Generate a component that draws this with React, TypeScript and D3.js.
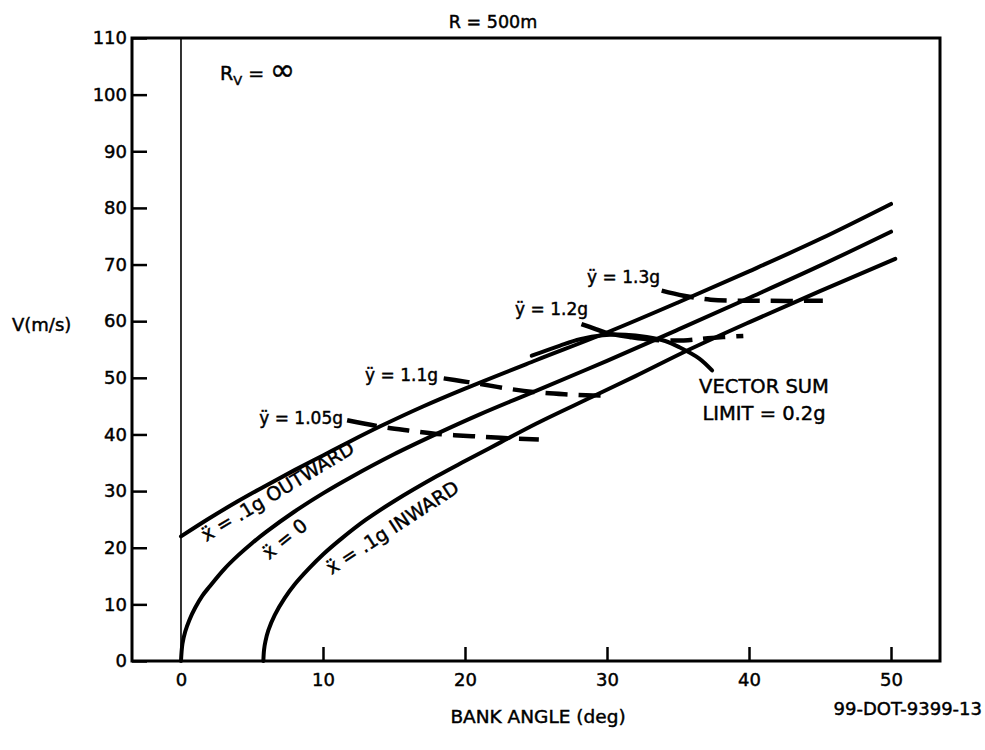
import React, { useEffect, useRef } from "react";
import * as d3 from "d3";

// curves: bank angle (deg) -> V (m/s)
const outwardAngle = [0, 2, 4, 6, 8, 10, 12, 14, 17, 20, 25, 30, 35, 40, 45, 50];
const outwardSpeed = [22, 25.2, 28.2, 31.0, 33.7, 36.3, 38.9, 41.4, 44.9, 48.1, 53.1, 58.0, 63.3, 68.8, 74.5, 80.7];

const zeroAngle = [0, 0.1, 0.3, 0.6, 1, 1.5, 2, 3, 4, 5, 6, 8, 10, 12, 15, 18, 21, 25, 30, 35, 40, 45, 50];
const zeroSpeed = [0, 3.0, 5.2, 7.3, 9.4, 11.5, 13.1, 16.1, 18.6, 20.8, 22.8, 26.4, 29.6, 32.5, 36.5, 40.1, 43.5, 47.7, 53.0, 58.5, 64.1, 69.8, 75.8];

const inwardAngle = [5.8, 5.85, 5.95, 6.15, 6.6, 7.3, 8, 9, 10, 11.3, 13, 15, 18, 20, 22.5, 25, 29, 32, 35.8, 40, 45, 50.3];
const inwardSpeed = [0, 2, 3.5, 5.4, 8.1, 11.1, 13.5, 16.3, 18.8, 21.6, 24.9, 28.2, 32.6, 35.3, 38.6, 41.9, 46.7, 50.3, 55.0, 59.8, 65.3, 71.0];

// constant vertical acceleration lines (dashed)
const y105Angle = [11.7, 14.0, 16, 18.0, 20.5, 22.5, 25.2];
const y105Speed = [42.5, 41.4, 40.7, 40.1, 39.7, 39.4, 39.1];
const y11Angle = [18.5, 19.8, 21.1, 23, 24.8, 27, 29, 30.2];
const y11Speed = [49.9, 49.4, 48.9, 48.1, 47.5, 47.1, 46.9, 46.9];
const y12Angle = [28.2, 29.2, 30, 31.6, 33.2, 35.4, 37.1, 39.6];
const y12Speed = [59.5, 58.6, 57.9, 57.2, 56.7, 56.6, 57.0, 57.4];
const y13Angle = [33.85, 35.4, 37.3, 40.8, 45.2];
const y13Speed = [65.4, 64.5, 63.8, 63.6, 63.6];

// vector sum limit arc
const vecAngle = [24.7, 26.7, 28.1, 29.7, 31.3, 32.8, 34.1, 35.1, 36.5, 37.4];
const vecSpeed = [53.9, 55.7, 56.8, 57.5, 57.6, 57.2, 56.5, 55.4, 53.4, 51.3];

const xTicks = [0, 10, 20, 30, 40, 50];
const yTicks = [0, 10, 20, 30, 40, 50, 60, 70, 80, 90, 100, 110];

const FONT = "'DejaVu Sans', sans-serif";

const App = () => {
  const svgRef = useRef(null);

  useEffect(() => {
    const svg = d3.select(svgRef.current);
    svg.selectAll("*").remove();

    const x = d3.scaleLinear().domain([-3.45, 53.45]).range([132, 940]);
    const y = d3.scaleLinear().domain([0, 110]).range([661, 38]);

    const line = d3
      .line<[number, number]>()
      .x((d) => x(d[0]))
      .y((d) => y(d[1]))
      .curve(d3.curveCatmullRom.alpha(0.5));

    const zip = (a: number[], b: number[]) => a.map((v, i) => [v, b[i]] as [number, number]);

    // thin line at zero bank angle
    svg
      .append("line")
      .attr("x1", x(0))
      .attr("x2", x(0))
      .attr("y1", y(0))
      .attr("y2", y(110))
      .attr("stroke", "#000")
      .attr("stroke-width", 1.6);

    const bold = (sel: any, size: number) =>
      sel
        .style("font-family", FONT)
        .style("font-size", `${size}px`)
        .attr("fill", "#000")
        .attr("stroke", "#000")
        .attr("stroke-width", 0.45);

    // axes, ticks pointing inward
    const gx = svg
      .append("g")
      .attr("transform", `translate(0,${y(0)})`)
      .call(d3.axisBottom(x).tickValues(xTicks).tickSize(-14).tickPadding(12));
    gx.select(".domain").remove();
    gx.selectAll("line").attr("stroke-width", 2.5).filter((d) => d === 0).remove();
    bold(gx.selectAll("text"), 18);

    const gy = svg
      .append("g")
      .attr("transform", `translate(${x.range()[0]},0)`)
      .call(d3.axisLeft(y).tickValues(yTicks).tickSize(-15).tickPadding(5));
    gy.select(".domain").remove();
    gy.selectAll("line").attr("stroke-width", 2.5);
    bold(gy.selectAll("text"), 18);

    // frame
    svg
      .append("rect")
      .attr("x", x.range()[0])
      .attr("y", y(110))
      .attr("width", x.range()[1] - x.range()[0])
      .attr("height", y(0) - y(110))
      .attr("fill", "none")
      .attr("stroke", "#000")
      .attr("stroke-width", 3);

    // main curves and vector sum arc
    [
      zip(outwardAngle, outwardSpeed),
      zip(zeroAngle, zeroSpeed),
      zip(inwardAngle, inwardSpeed),
      zip(vecAngle, vecSpeed),
    ].forEach((pts) => {
      svg
        .append("path")
        .attr("d", line(pts))
        .attr("fill", "none")
        .attr("stroke", "#000")
        .attr("stroke-width", 4)
        .attr("stroke-linecap", "round");
    });

    // dashed lines, first dash is the solid leader from the label
    const dashed = [
      { pts: zip(y105Angle, y105Speed), lead: 30 },
      { pts: zip(y11Angle, y11Speed), lead: 26 },
      { pts: zip(y12Angle, y12Speed), lead: 80 },
      { pts: zip(y13Angle, y13Speed), lead: 33 },
    ];
    dashed.forEach((d) => {
      const pattern = [d.lead, 11].concat(d3.range(12).flatMap(() => [22, 11]));
      svg
        .append("path")
        .attr("d", line(d.pts))
        .attr("fill", "none")
        .attr("stroke", "#000")
        .attr("stroke-width", 4.5)
        .attr("stroke-dasharray", pattern.join(" "));
    });

    const text = (tx: number, ty: number, s: string, size = 17, anchor = "start") =>
      bold(
        svg.append("text").attr("x", tx).attr("y", ty).attr("text-anchor", anchor).text(s),
        size
      );

    // titles
    text(493, 28, "R = 500m", 17.5, "middle");
    text(12, 331, "V(m/s)", 18);
    text(538, 723, "BANK ANGLE (deg)", 18.5, "middle");
    text(982, 715, "99-DOT-9399-13", 18, "end");

    // R_V = infinity
    const rv = bold(svg.append("text").attr("x", 220).attr("y", 80), 19);
    rv.append("tspan").text("R");
    rv.append("tspan").attr("dy", 5).style("font-size", "13px").text("V");
    rv.append("tspan").attr("dy", -5).text(" = ");
    rv.append("tspan").style("font-size", "30px").text("∞");

    // acceleration labels
    text(343, 424, "ÿ = 1.05g", 17, "end");
    text(438, 381, "ÿ = 1.1g", 17, "end");
    text(588, 315, "ÿ = 1.2g", 17, "end");
    text(660, 283, "ÿ = 1.3g", 17, "end");

    text(764, 393, "VECTOR SUM", 19.5, "middle");
    text(764, 420, "LIMIT = 0.2g", 19.5, "middle");

    // rotated curve labels
    const rot = (tx: number, ty: number, ang: number, s: string) =>
      text(tx, ty, s, 19, "middle").attr("transform", `rotate(${ang},${tx},${ty})`);
    rot(281, 497, -31, "ẍ = .1g OUTWARD");
    rot(289, 544, -39, "ẍ = 0");
    rot(396, 533, -33, "ẍ = .1g INWARD");
  }, []);

  return (
    <svg
      ref={svgRef}
      width={985}
      height={750}
      style={{ position: "absolute", left: 0, top: 0, background: "#fff" }}
    ></svg>
  );
};

export default App;
